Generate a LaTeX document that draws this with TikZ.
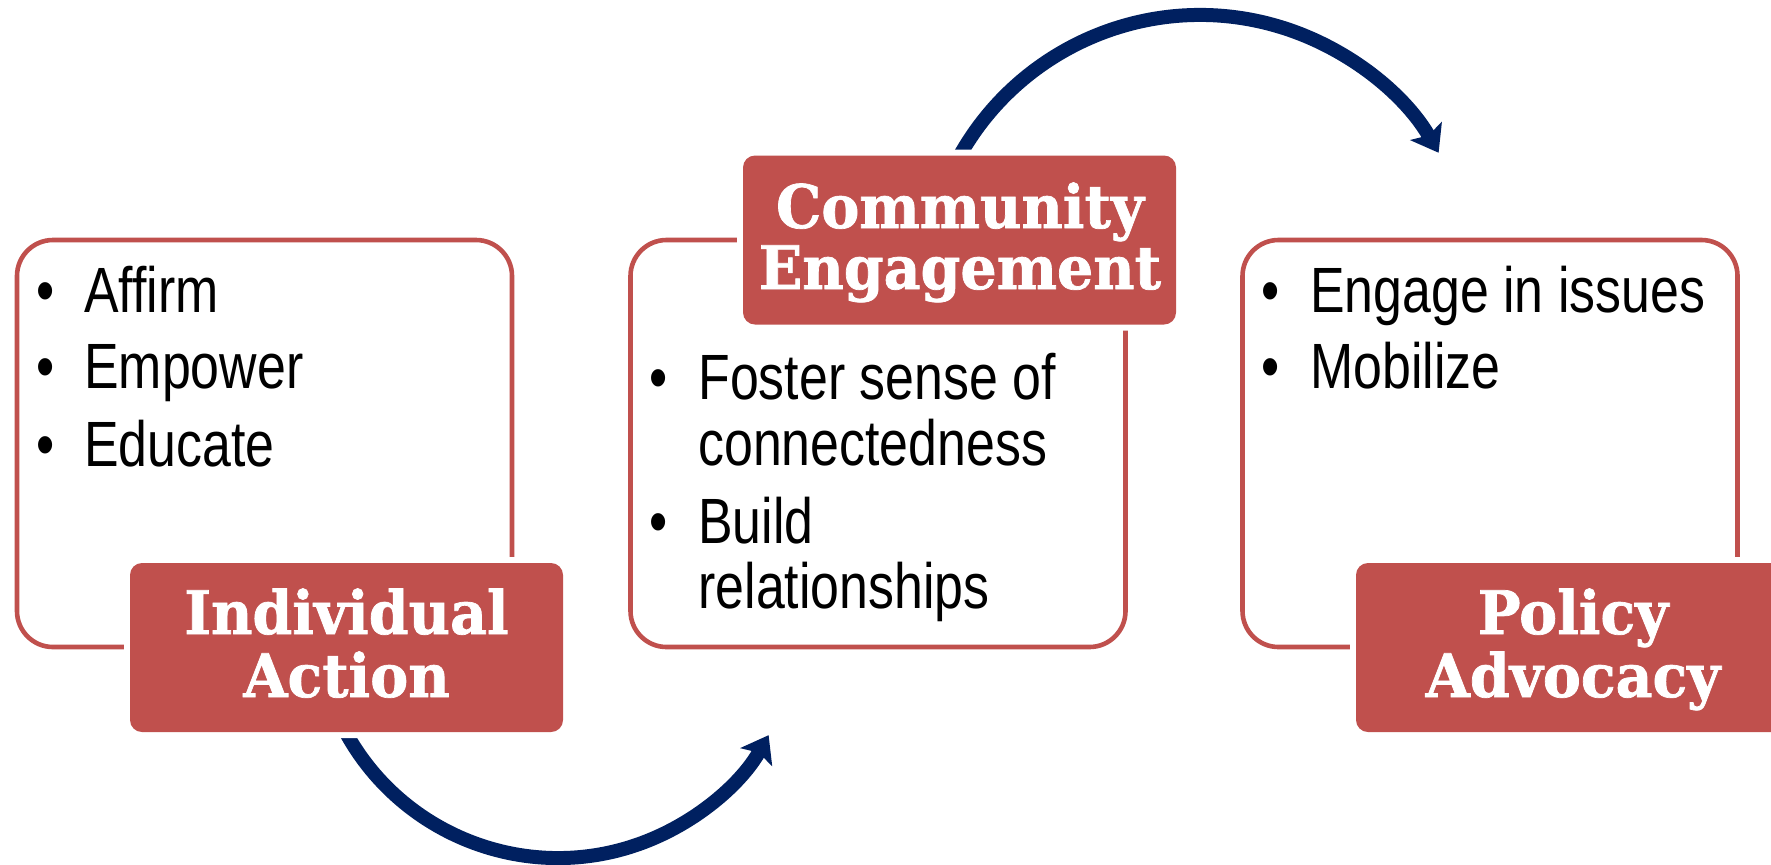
\documentclass[tikz,border=0pt]{standalone}
\usepackage{fontspec}
\setmainfont{Liberation Sans}
\newfontfamily\bodyfnt{Liberation Sans}[FakeStretch=0.81]
\newfontfamily\lblfnt{DejaVu Serif}[FakeStretch=0.95, FakeBold=1.2]
\usetikzlibrary{arrows.meta}
\definecolor{accred}{HTML}{C0504D}
\definecolor{navyblue}{HTML}{002060}
\begin{document}
\begin{tikzpicture}[x=0.5pt, y=-0.5pt,
  outl/.style={draw=accred, line width=2.3pt, rounded corners=18pt,
    minimum width=247.5pt, minimum height=203.5pt, inner sep=0pt, outer sep=0pt},
  lblbox/.style={fill=accred, rounded corners=6pt, minimum width=216.5pt,
    minimum height=84.5pt, inner sep=0pt, preaction={draw=white, line width=6pt}},
  lbltxt/.style={anchor=base, inner sep=0pt, text=white,
    font=\lblfnt\bfseries\fontsize{30}{31.5}\selectfont},
  bul/.style={anchor=base, inner sep=0pt, font=\bodyfnt\fontsize{32}{32}\selectfont},
  itm/.style={anchor=base west, inner sep=0pt, font=\bodyfnt\fontsize{32}{32}\selectfont},
  flow/.style={draw=navyblue, line width=7pt,
    -{Stealth[length=12.5pt,width=18pt,inset=2.5pt]}}]
\useasboundingbox (0,0) rectangle (1771,864);
\clip (0,0) rectangle (1771,864);
\fill[white] (0,0) rectangle (1771,864);

% arrows (drawn first so the label halos cut their starts)
\coordinate (ca) at (558,616);
\coordinate (cb) at (1200,290.5);
\draw[flow] ([shift={(158:242)}]ca) arc[start angle=158, end angle=29.5, radius=242];
\draw[flow] ([shift={(200:275.5)}]cb) arc[start angle=200, end angle=330, radius=275.5];

% outline boxes
\node[outl] (b1) at (264.5,443.5) {};
\node[outl] (b2) at (878,443.5) {};
\node[outl] (b3) at (1490,443.5) {};

% label boxes
\node[lblbox] (lab1) at (346.5,647.5) {};
\node[lblbox] (lab2) at (959.5,240) {};
\node[lblbox] (lab3) at (1572.5,647.5) {};

\node[lbltxt] (t1a) at (346.5,634) {Individual};
\node[lbltxt] (t1b) at (346.5,697) {Action};
\node[lbltxt] (t2a) at (960,228) {Community};
\node[lbltxt] (t2b) at (960,289) {Engagement};
\node[lbltxt] (t3a) at (1573,634) {Policy};
\node[lbltxt] (t3b) at (1573,697) {Advocacy};

% bullets, left box
\node[bul] (p1) at (46,312) {•};  \node[itm] (i1) at (84,312) {Affirm};
\node[bul] (p2) at (46,388) {•};  \node[itm] (i2) at (84,388) {Empower};
\node[bul] (p3) at (46,466) {•};  \node[itm] (i3) at (84,466) {Educate};

% bullets, middle box
\node[bul] (q1) at (659,399) {•};  \node[itm] (j1) at (698,399) {Foster sense of};
\node[itm] (j1b) at (698,465) {connectedness};
\node[bul] (q2) at (659,543) {•};  \node[itm] (j2) at (698,543) {Build};
\node[itm] (j2b) at (698,608) {relationships};

% bullets, right box
\node[bul] (r1) at (1271,312) {•};  \node[itm] (k1) at (1310,312) {Engage in issues};
\node[bul] (r2) at (1271,388) {•};  \node[itm] (k2) at (1310,388) {Mobilize};
\end{tikzpicture}
\end{document}
